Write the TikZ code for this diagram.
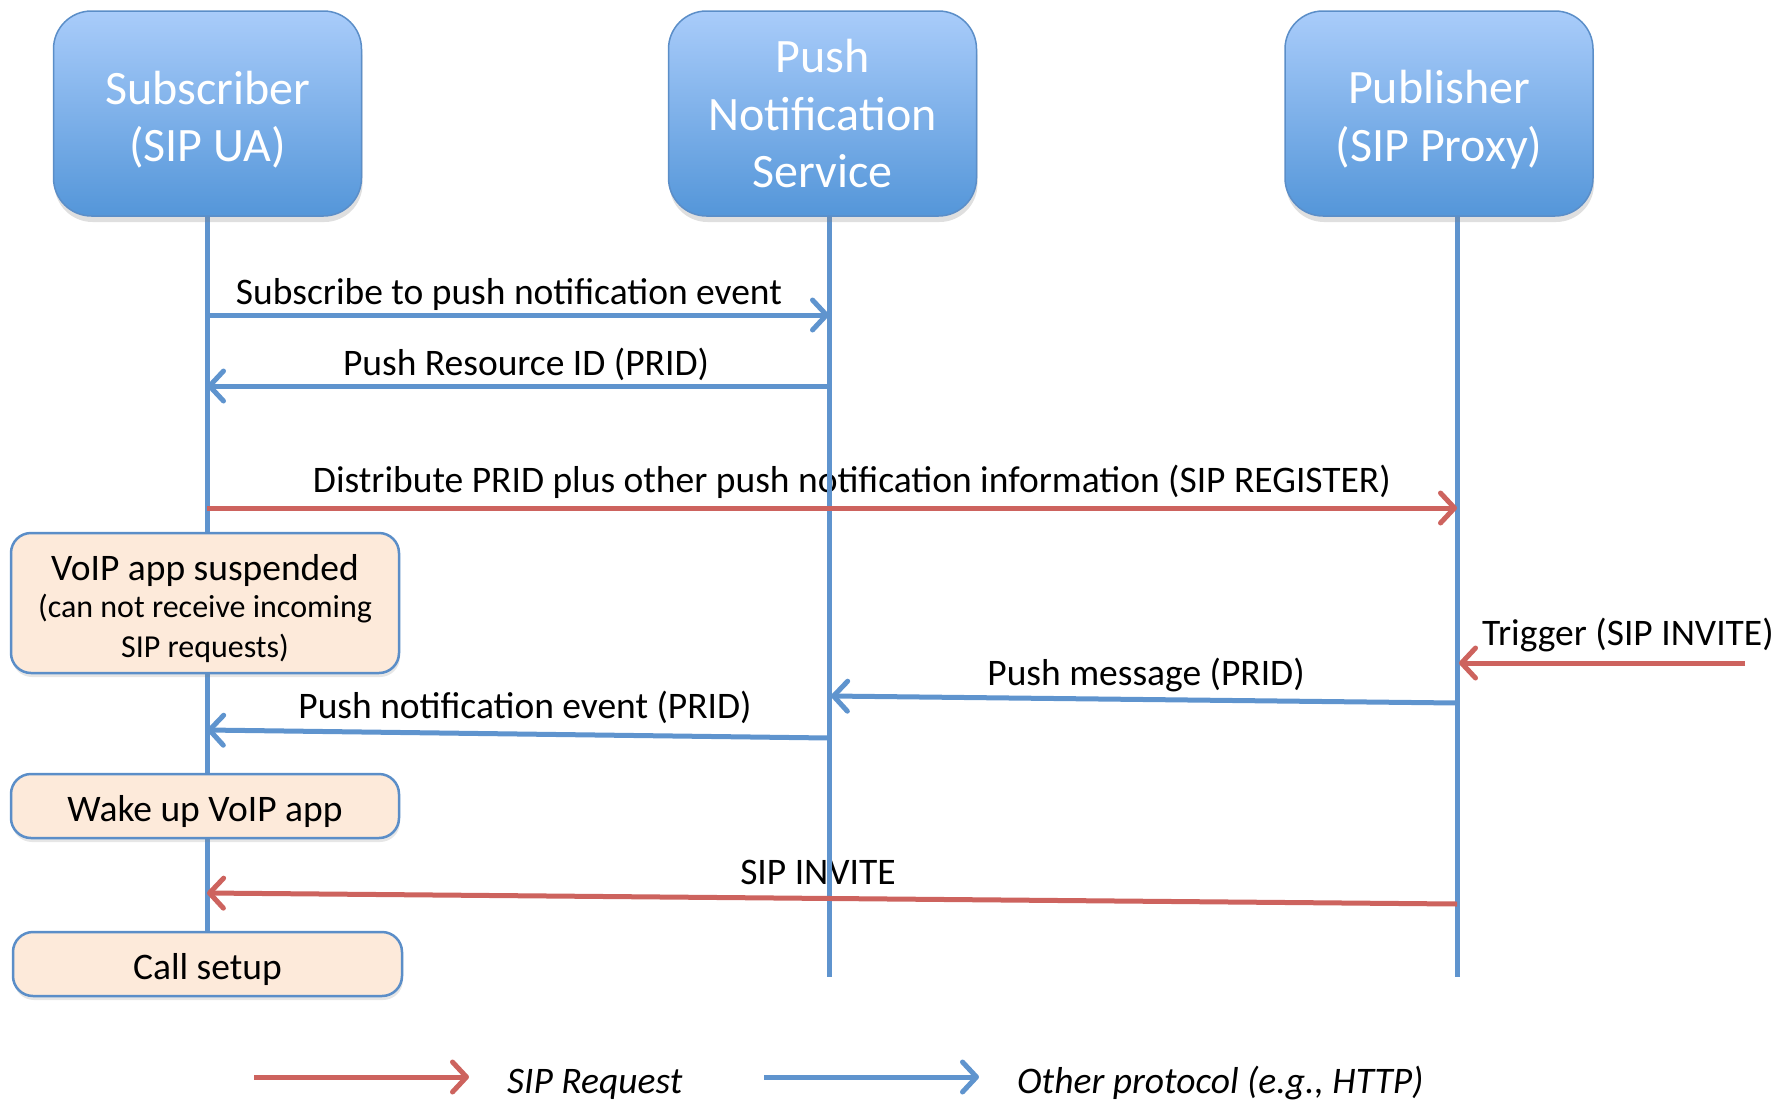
\documentclass[tikz,border=0pt]{standalone}
\usepackage{fontspec}
\setmainfont{Carlito}
\usetikzlibrary{arrows.meta,shadows}
\definecolor{lblue}{RGB}{95,148,206}
\definecolor{sred}{RGB}{205,99,94}
\definecolor{beige}{RGB}{253,234,218}
\definecolor{bord}{RGB}{91,142,200}
\definecolor{gtop}{RGB}{169,204,250}
\definecolor{gbot}{RGB}{84,150,217}
\begin{document}
\begin{tikzpicture}[x=1pt,y=-1pt,
  head/.style={rounded corners=38pt, draw=bord, line width=1.5pt, top color=gtop, bottom color=gbot,
    minimum width=308pt, minimum height=205pt, text=white, align=center, inner sep=0pt,
    font=\fontsize{48}{57.6}\selectfont,
    drop shadow={shadow xshift=1pt, shadow yshift=-6pt, opacity=0.25}},
  state/.style={rounded corners=20pt, draw=bord, line width=2.5pt, fill=beige, minimum width=388pt,
    align=center, inner sep=0pt,
    drop shadow={shadow xshift=1pt, shadow yshift=-4pt, opacity=0.2}},
  one/.style={minimum height=64pt, text height=30pt, text depth=0pt, font=\fontsize{37.5}{45}\selectfont},
  life/.style={draw=lblue, line width=5pt},
  tip/.style={-{Straight Barb[length=14pt,width=30pt,round]}},
  msgb/.style={draw=lblue, line width=5pt, tip},
  msgr/.style={draw=sred, line width=5pt, tip},
  lbl/.style={anchor=base, inner sep=0pt, font=\fontsize{37.5}{45}\selectfont},
]
\useasboundingbox (0,0) rectangle (1779,1103);

% labels
\node[lbl] (l1) at (509,304) {Subscribe to push notification event};
\node[lbl] (l2) at (526,375) {Push Resource ID (PRID)};
\node[lbl] (l3) at (852,492) {Distribute PRID plus other push notification information (SIP REGISTER)};
\node[lbl, anchor=base west] (l4) at (1482,645) {Trigger (SIP INVITE)};
\node[lbl] (l5) at (1146,685) {Push message (PRID)};
\node[lbl] (l6) at (525,718) {Push notification event (PRID)};
\node[lbl] (l7) at (818,884) {SIP INVITE};

% lifeline coordinates
\coordinate (s0) at (207,216);
\coordinate (s1) at (207,932);
\coordinate (p0) at (829,216);
\coordinate (p1) at (829,977);
\coordinate (q0) at (1457,216);
\coordinate (q1) at (1457,977);

\draw[life] (s0) -- (s1);
\draw[life] (p0) -- (p1);
\draw[life] (q0) -- (q1);

% message end points
\coordinate (m1a) at (207,315);  \coordinate (m1b) at (829,315);
\coordinate (m2a) at (829,386);  \coordinate (m2b) at (207,386);
\coordinate (m3a) at (207,508);  \coordinate (m3b) at (1457,508);
\coordinate (m4a) at (1745,663); \coordinate (m4b) at (1459,663);
\coordinate (m5a) at (1457,703); \coordinate (m5b) at (831,696);
\coordinate (m6a) at (829,738);  \coordinate (m6b) at (207,730);
\coordinate (m7a) at (1457,904); \coordinate (m7b) at (207,893);

\draw[msgb] (m1a) -- (m1b);
\draw[msgb] (m2a) -- (m2b);
\draw[msgr] (m3a) -- (m3b);
\draw[msgr] (m4a) -- (m4b);
\draw[msgb] (m5a) -- (m5b);
\draw[msgb] (m6a) -- (m6b);
\draw[msgr] (m7a) -- (m7b);

% headers
\node[head] (sub) at (207.5,113.5) {\rule{0pt}{46pt}Subscriber\\(SIP UA)};
\node[head] (push) at (822.5,113.5) {Push\\Notification\\Service};
\node[head] (pub) at (1439,113.5) {\rule{0pt}{46pt}Publisher\\(SIP Proxy)};

% states
\node[state, minimum height=140pt, font=\fontsize{32}{38.5}\selectfont] (susp) at (205,603)
  {\rule{0pt}{38pt}{\fontsize{37.5}{45}\selectfont VoIP app suspended}\\[-1.5pt]
   (can not receive incoming\\[1.5pt]
   SIP requests)};
\node[state, one] (wake) at (205,806) {Wake up VoIP app};
\node[state, one, minimum width=389pt] (call) at (207.5,964) {Call setup};

% legend
\coordinate (la) at (254,1077); \coordinate (lb) at (469,1077);
\coordinate (lc) at (764,1077); \coordinate (ld) at (979,1077);
\draw[msgr] (la) -- (lb);
\draw[msgb] (lc) -- (ld);
\node[lbl, anchor=base west, font=\fontsize{37.5}{45}\selectfont\itshape] (lg1) at (507,1093) {SIP Request};
\node[lbl, anchor=base west, font=\fontsize{37.5}{45}\selectfont\itshape] (lg2) at (1017,1093) {Other protocol (e.g., HTTP)};
\end{tikzpicture}
\end{document}
